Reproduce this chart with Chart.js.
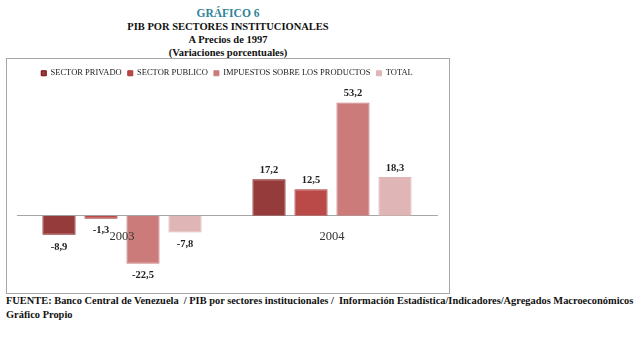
<!DOCTYPE html>
<html>
<head>
<meta charset="utf-8">
<script src="https://cdn.jsdelivr.net/npm/chart.js@4.4.0/dist/chart.umd.min.js"></script>
<style>
  body { margin: 0; background: #fff; font-family: "Liberation Serif", "DejaVu Serif", serif; }
  #titles { position: absolute; left: 6px; top: 7px; width: 444px; text-align: center; font-weight: bold; font-size: 10.5px; line-height: 13px; color: #111; }
  #titles .t1 { color: #31849b; font-size: 11.5px; }
  #frame { position: absolute; left: 6px; top: 58px; width: 442px; height: 234px; border: 1px solid #a6a6a6; }
  #note { position: absolute; left: 6px; top: 294px; font-weight: bold; font-size: 10.4px; line-height: 14px; color: #111; white-space: pre; }
</style>
</head>
<body>
<div id="titles">
  <div class="t1">GRÁFICO 6</div>
  <div>PIB POR SECTORES INSTITUCIONALES</div>
  <div>A Precios de 1997</div>
  <div>(Variaciones porcentuales)</div>
</div>
<div id="frame"><canvas id="myChart"></canvas></div>
<div id="note">FUENTE: Banco Central de Venezuela  / PIB por sectores institucionales /  Información Estadística/Indicadores/Agregados Macroeconómicos
Gráfico Propio</div>
<script>
// data
let years = ["2003", "2004"];
let privado = [-8.9, 17.2];
let publico = [-1.3, 12.5];
let impuestos = [-22.5, 53.2];
let total = [-7.8, 18.3];

let ctx = document.getElementById("myChart");

// value labels above/below each bar, comma decimals like the original
const barLabels = {
    id: "barLabels",
    afterDatasetsDraw(chart) {
        const c = chart.ctx;
        c.save();
        c.font = "bold 10.5px 'Liberation Serif'";
        c.fillStyle = "#222";
        c.textAlign = "center";
        c.textBaseline = "middle";
        chart.data.datasets.forEach((ds, i) => {
            chart.getDatasetMeta(i).data.forEach((bar, j) => {
                let v = ds.data[j];
                let y = v >= 0 ? bar.y - 9 : bar.y + 12;
                c.fillText(v.toFixed(1).replace(".", ","), bar.x, y);
            });
        });
        c.restore();
    }
};

function ds(label, data, fill, border) {
    return {
        label: label,
        data: data,
        backgroundColor: fill,
        borderColor: border,
        borderWidth: 1,
        categoryPercentage: 0.8,
        barPercentage: 0.79
    };
}

let myChart = new Chart(ctx, {
    type: "bar",
    data: {
        labels: years,
        datasets: [
            ds("SECTOR PRIVADO", privado, "#953b3b", "#7a0a0a"),
            ds("SECTOR PUBLICO", publico, "#b94a48", "#a63a38"),
            ds("IMPUESTOS SOBRE LOS PRODUCTOS", impuestos, "#cc7b7b", "#cc7b7b"),
            ds("TOTAL", total, "#e0b5b5", "#e0b5b5")
        ]
    },
    options: {
        responsive: true,
        maintainAspectRatio: false,
        animation: false,
        layout: { padding: { left: 10, right: 12, top: 4, bottom: 12 } },
        plugins: {
            legend: {
                position: "top",
                labels: {
                    boxWidth: 5,
                    boxHeight: 5,
                    padding: 6,
                    color: "#222",
                    font: { family: "Liberation Serif", size: 8.5 }
                }
            },
            tooltip: { enabled: false }
        },
        scales: {
            x: {
                position: { y: 0 },
                grid: { display: false },
                border: { color: "#a6a6a6" },
                ticks: { z: 1, color: "#333", padding: 5, font: { family: "Liberation Serif", size: 12.5 } }
            },
            y: {
                display: false,
                min: -30.6,
                max: 60.3
            }
        }
    },
    plugins: [barLabels]
});
</script>
</body>
</html>
